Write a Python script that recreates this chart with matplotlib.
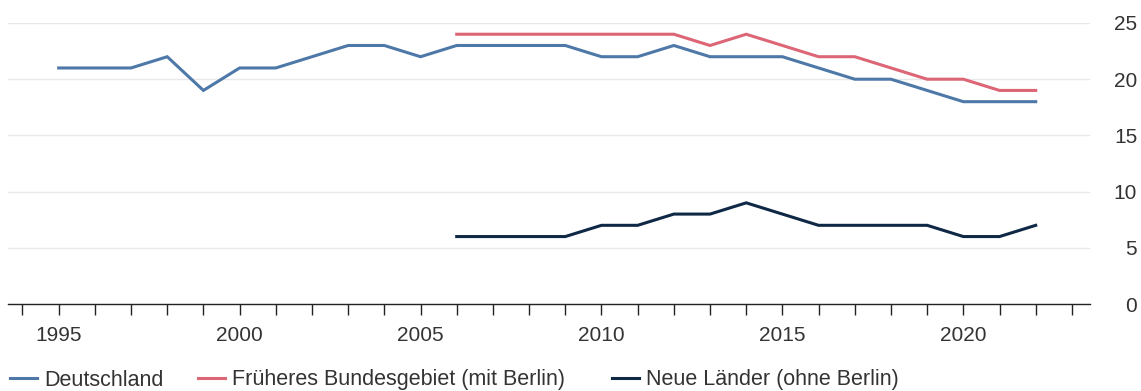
import matplotlib
matplotlib.use("Agg")
import matplotlib.pyplot as plt
from matplotlib.ticker import MultipleLocator, FixedLocator

plt.rcParams["font.family"] = ["Liberation Sans", "DejaVu Sans"]

# Annual values per region
years_de = list(range(1995, 2023))
deutschland = [21, 21, 21, 22, 19, 21, 21, 22, 23, 23, 22, 23, 23, 23, 23,
               22, 22, 23, 22, 22, 22, 21, 20, 20, 19, 18, 18, 18]
years_reg = list(range(2006, 2023))
frueheres = [24, 24, 24, 24, 24, 24, 24, 23, 24, 23, 22, 22, 21, 20, 20, 19, 19]
neue = [6, 6, 6, 6, 7, 7, 8, 8, 9, 8, 7, 7, 7, 7, 6, 6, 7]

series_names = ["Deutschland", "Früheres Bundesgebiet (mit Berlin)",
                "Neue Länder (ohne Berlin)"]
colors = ["#4d78a8", "#dc6676", "#0f2845"]

y_ticks = [0, 5, 10, 15, 20, 25]
x_label_years = [1995, 2000, 2005, 2010, 2015, 2020]

FS = 15
TXT = "#333333"

W, H = 1141, 391
fig = plt.figure(figsize=(W / 100, H / 100), dpi=100)
ax = fig.add_axes([8 / W, (H - 304) / H, (1090 - 8) / W, (304 - 23) / H])

lines = []
for xs, ys, c, name in [(years_de, deutschland, colors[0], series_names[0]),
                        (years_reg, frueheres, colors[1], series_names[1]),
                        (years_reg, neue, colors[2], series_names[2])]:
    ln, = ax.plot(xs, ys, color=c, lw=2.2, label=name, solid_joinstyle="miter")
    lines.append(ln)

ax.set_xlim(1993.6, 2023.5)
ax.set_ylim(0, 25)

for s in ["top", "left", "right"]:
    ax.spines[s].set_visible(False)
ax.spines["bottom"].set_color("#222222")
ax.spines["bottom"].set_linewidth(1.0)

ax.set_yticks(y_ticks)
ax.yaxis.tick_right()
ax.tick_params(axis="y", length=0, pad=34, labelsize=FS, labelcolor=TXT)
for lbl in ax.get_yticklabels():
    lbl.set_horizontalalignment("right")
ax.grid(axis="y", color="#e8e8e8", lw=1.0)
ax.set_axisbelow(True)

ax.xaxis.set_major_locator(FixedLocator(x_label_years))
ax.xaxis.set_minor_locator(MultipleLocator(1))
ax.tick_params(axis="x", which="both", direction="out", length=8, width=1,
               color="#222222")
ax.tick_params(axis="x", which="major", labelsize=FS, labelcolor=TXT, pad=8)

# One legend entry per series, placed along the bottom edge
legend_x = [10, 198, 612]
for ln, name, x0 in zip(lines, series_names, legend_x):
    fig.legend([ln], [name], loc="center left",
               bbox_to_anchor=(x0 / W, (H - 380) / H), frameon=False,
               fontsize=15.5, handlelength=1.25, handletextpad=0.35,
               borderpad=0, borderaxespad=0, labelcolor=TXT)

fig.savefig("out.png", dpi=100, facecolor="white")
